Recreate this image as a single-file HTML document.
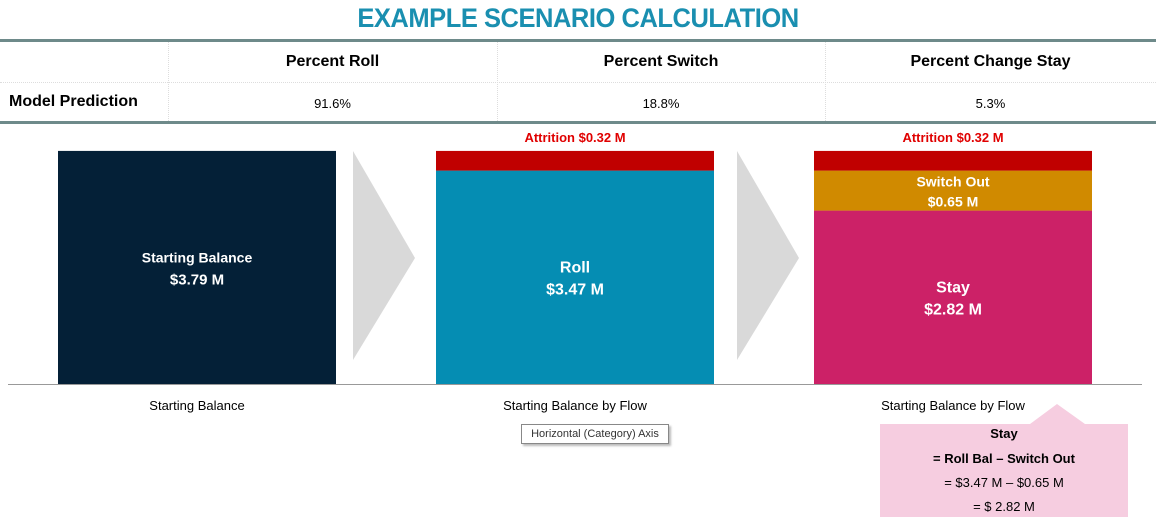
<!DOCTYPE html>
<html><head><meta charset="utf-8"><style>
body{margin:0;width:1156px;height:517px;background:#fff;font-family:"Liberation Sans",sans-serif;overflow:hidden;position:relative}
.t{position:absolute}
</style></head><body>
<div class="t" style="left:0;width:1156px;top:3px;text-align:center;font-size:27px;font-weight:bold;color:#1a8fb0;letter-spacing:-0.5px;transform:scaleX(0.945);transform-origin:578px 0">EXAMPLE SCENARIO CALCULATION</div>
<div style="position:absolute;left:0;top:39px;width:1156px;height:85px;border-top:3px solid #6e8a8a;border-bottom:3px solid #6e8a8a;box-sizing:border-box">
 <div style="position:absolute;left:0;right:0;top:40px;border-top:1px dotted #ddd"></div>
 <div style="position:absolute;left:168px;top:0;bottom:0;border-left:1px dotted #ddd"></div>
 <div style="position:absolute;left:497px;top:0;bottom:0;border-left:1px dotted #ddd"></div>
 <div style="position:absolute;left:825px;top:0;bottom:0;border-left:1px dotted #ddd"></div>
 <div class="t" style="left:168px;width:329px;top:11px;text-align:center;font-weight:bold;font-size:16px">Percent Roll</div>
 <div class="t" style="left:497px;width:328px;top:11px;text-align:center;font-weight:bold;font-size:16px">Percent Switch</div>
 <div class="t" style="left:825px;width:331px;top:11px;text-align:center;font-weight:bold;font-size:16px">Percent Change Stay</div>
 <div class="t" style="left:9px;top:51px;font-weight:bold;font-size:16px">Model Prediction</div>
 <div class="t" style="left:168px;width:329px;top:54px;text-align:center;font-size:13px">91.6%</div>
 <div class="t" style="left:497px;width:328px;top:54px;text-align:center;font-size:13px">18.8%</div>
 <div class="t" style="left:825px;width:331px;top:54px;text-align:center;font-size:13px">5.3%</div>
</div>
<svg id="chart" width="1156" height="517" style="position:absolute;left:0;top:0"></svg>
<div style="position:absolute;left:521px;top:424px;width:146px;height:18px;border:1px solid #888;background:#fff;box-shadow:2px 2px 2px #bbb;font-size:11px;line-height:18px;text-align:center;color:#333">Horizontal (Category) Axis</div>
<svg width="1156" height="517" style="position:absolute;left:0;top:0">
 <polygon points="880,424 1030,424 1057,404 1085,424 1128,424 1128,517 880,517" fill="#f6cde0"/>
 <text x="1004" y="438" text-anchor="middle" font-size="13" font-weight="bold" font-family="Liberation Sans">Stay</text>
 <text x="1004" y="463" text-anchor="middle" font-size="13" font-weight="bold" font-family="Liberation Sans">= Roll Bal – Switch Out</text>
 <text x="1004" y="487" text-anchor="middle" font-size="13" font-family="Liberation Sans">= $3.47 M – $0.65 M</text>
 <text x="1004" y="511" text-anchor="middle" font-size="13" font-family="Liberation Sans">= $ 2.82 M</text>
</svg>
<script>
const categories=["Starting Balance","Starting Balance by Flow","Starting Balance by Flow"];
const startVals=[3.79,0,0];
const rollVals=[0,3.47,0];
const stayVals=[0,0,2.82];
const switchVals=[0,0,0.65];
const attrVals=[0,0.32,0.32];
const svg=document.getElementById('chart');
const NS='http://www.w3.org/2000/svg';
const base=384,pxPerM=61.5;
const y=v=>base-v*pxPerM;
const xL=i=>58+i*378,bw=278;
function el(t,a){const e=document.createElementNS(NS,t);for(const k in a)e.setAttribute(k,a[k]);svg.appendChild(e);return e;}
[353,737].forEach((x,i)=>{const p=el('polygon',{points:`${x},151 ${x+62},258 ${x},360`,fill:'#d9d9d9'});

});
const segs=[["start",startVals,"#042037","Starting Balance"],["roll",rollVals,"#058db3","Roll"],["stay",stayVals,"#cc2167","Stay"],["switch",switchVals,"#d08a00","Switch Out"],["attrition",attrVals,"#c00000",""]];
function txt(x,yy,s,sz,col,w){const t=el('text',{x:x,y:yy,'text-anchor':'middle','font-size':sz,fill:col,'font-weight':w||'bold','font-family':'Liberation Sans'});t.textContent=s;return t;}
categories.forEach((c,i)=>{
 let acc=0;
 segs.forEach(([k,arr,col,lab])=>{const v=arr[i];if(!v)return;
  const r=el('rect',{x:xL(i),y:y(acc+v),width:bw,height:v*pxPerM,fill:col});
  
  
  const cx=xL(i)+bw/2,top=y(acc+v),mid=top+v*pxPerM/2;
  if(k==='attrition'){const t=txt(cx,top-9,'Attrition $'+v.toFixed(2)+' M',13,'#e00000');
   }
  else{const big=k!=='switch';const t1=txt(cx,mid-(big?5:4),lab,big?(k==='start'?14:16):14,'#fff');
   const t2=txt(cx,mid+(big?17:16),'$'+v.toFixed(2)+' M',big?(k==='start'?15:16):14,'#fff');
   
   }
  acc+=v;});
 const t=txt(xL(i)+bw/2,410,c,13,'#000','normal');
 
 
});
const ax=el('line',{x1:8,x2:1142,y1:base+0.5,y2:base+0.5,stroke:'#999','stroke-width':1});


</script>
</body></html>
